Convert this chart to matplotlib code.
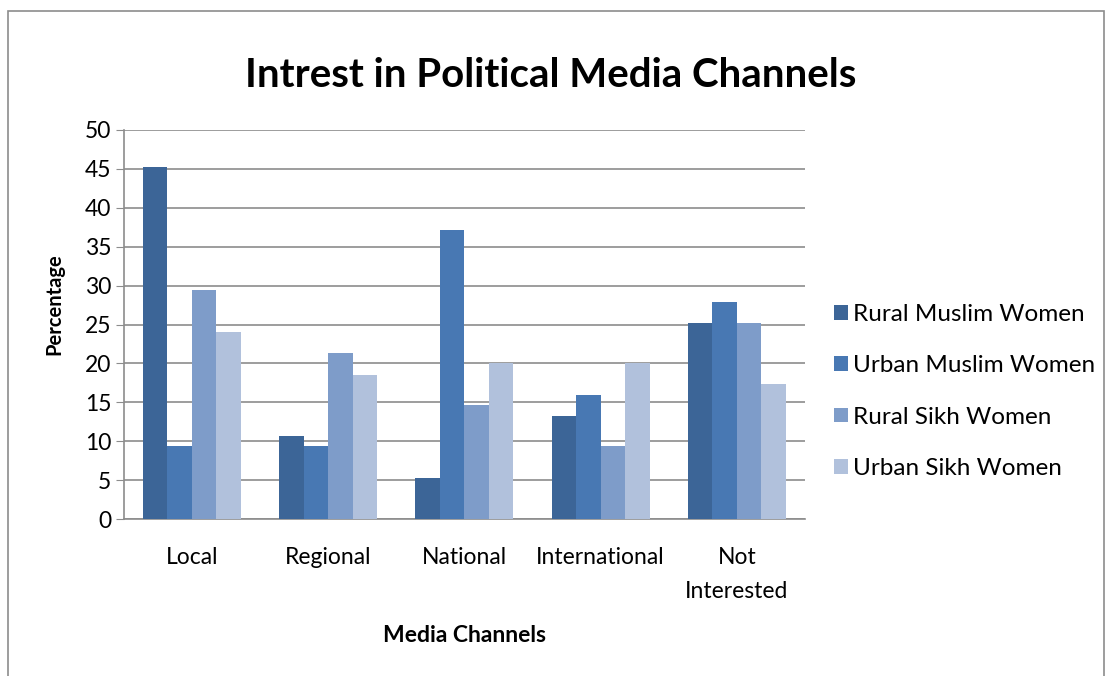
import matplotlib.pyplot as plt
import numpy as np
from matplotlib.patches import Rectangle

# Categories and series
categorias = ['Local', 'Regional', 'National', 'International', 'Not\nInterested']
series = ['Rural Muslim Women', 'Urban Muslim Women', 'Rural Sikh Women', 'Urban Sikh Women']
rural_muslim = [45.3, 10.7, 5.3, 13.3, 25.2]
urban_muslim = [9.4, 9.4, 37.2, 16.0, 27.9]
rural_sikh = [29.4, 21.4, 14.6, 9.4, 25.2]
urban_sikh = [24.0, 18.5, 20.0, 20.0, 17.3]
yticks = [0, 5, 10, 15, 20, 25, 30, 35, 40, 45, 50]

cores = ['#3C6597', '#4878B3', '#7E9CC9', '#B1C1DC']
valores = [rural_muslim, urban_muslim, rural_sikh, urban_sikh]

plt.rcParams['font.family'] = ['Lato', 'DejaVu Sans']

fig = plt.figure(figsize=(11.14, 6.76), dpi=100)
# moldura cinza em volta do gráfico
fig.patches.append(Rectangle((8 / 1114, -0.01), 1096 / 1114, 1 - 11 / 676 + 0.01,
                             transform=fig.transFigure, fill=False,
                             edgecolor='#8c8c8c', linewidth=1.2))

ax = fig.add_axes([0.111, 0.2322, 0.6116, 0.5755])
x = np.arange(len(categorias))
largura = 0.18
for i, (nome, v) in enumerate(zip(series, valores)):
    ax.bar(x + (i - 1.5) * largura, v, largura, color=cores[i], label=nome, zorder=3)

ax.set_xlim(-0.5, len(categorias) - 0.5)
ax.set_ylim(0, 50)
ax.set_yticks(yticks)
ax.set_xticks(x)
ax.set_xticklabels(categorias, fontsize=16.5, linespacing=1.75)
ax.tick_params(axis='y', labelsize=16.5, length=6, color='#8c8c8c', pad=3)
ax.tick_params(axis='x', length=0, pad=20)
ax.yaxis.grid(True, color='#8c8c8c', linewidth=1.2, zorder=0)
for lado in ['top', 'right']:
    ax.spines[lado].set_visible(False)
for lado in ['left', 'bottom']:
    ax.spines[lado].set_color('#8c8c8c')
    ax.spines[lado].set_linewidth(1.2)

ax.set_xlabel('Media Channels', fontsize=16.5, fontweight='bold', labelpad=17)
ax.set_ylabel('Percentage', fontsize=14.5, fontweight='bold')
ax.yaxis.set_label_coords(-0.087, 0.553)
fig.text(0.494, 0.889, 'Intrest in Political Media Channels', ha='center', va='center',
         fontsize=29, fontweight='bold')

ax.legend(loc='center left', bbox_to_anchor=(1.029, 0.328), frameon=False, fontsize=17.5,
          borderaxespad=0, handlelength=0.55, handleheight=0.55, handletextpad=0.2,
          labelspacing=1.25)

fig.savefig('out.png', dpi=100)
